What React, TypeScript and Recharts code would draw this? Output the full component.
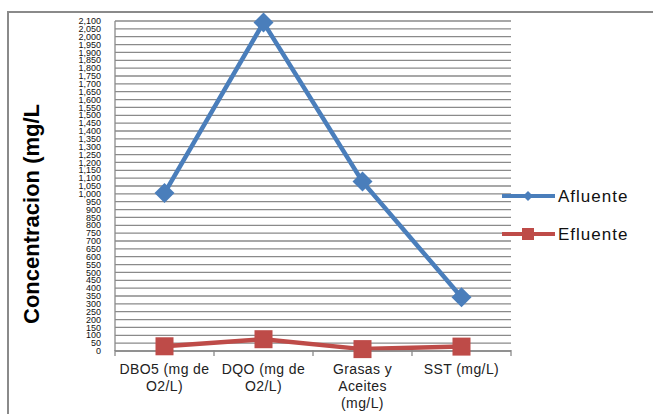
import { LineChart, Line, XAxis, YAxis, CartesianGrid } from 'recharts'

const categories = ['DBO5 (mg de O2/L)', 'DQO (mg de O2/L)', 'Grasas y Aceites (mg/L)', 'SST (mg/L)']
const tickLines = [['DBO5 (mg de', 'O2/L)'], ['DQO (mg de', 'O2/L)'], ['Grasas y', 'Aceites', '(mg/L)'], ['SST (mg/L)']]
const afluente = [1005, 2090, 1078, 342]
const efluente = [30, 75, 12, 28]
const yTicks = Array.from({ length: 43 }, (_, i) => i * 50)

const data = categories.map((c, i) => ({ name: c, afluente: afluente[i], efluente: efluente[i] }))

const BLUE = '#4a7ebb'
const RED = '#be4b48'
const GRID = '#8a8a8a'
const FONT = 'Liberation Sans, Arial, sans-serif'

function Diamond(props: any) {
  const { cx, cy, index } = props
  if (cx == null || cy == null) return null
  return <path key={'d' + index} d={`M${cx},${cy - 10}L${cx + 10},${cy}L${cx},${cy + 10}L${cx - 10},${cy}Z`} fill={BLUE} />
}

function Square(props: any) {
  const { cx, cy, index } = props
  if (cx == null || cy == null) return null
  return <rect key={'s' + index} x={cx - 9} y={cy - 9} width={18} height={18} fill={RED} />
}

function XTick(props: any) {
  const { x, y, payload, index } = props
  const half = payload.offset || 49.5
  const lines = tickLines[index] || [payload.value]
  return (
    <g>
      <line x1={x - half} y1={y - 9} x2={x - half} y2={y - 3} stroke={GRID} strokeWidth={1.3} />
      {index === categories.length - 1 && (
        <line x1={x + half} y1={y - 9} x2={x + half} y2={y - 3} stroke={GRID} strokeWidth={1.3} />
      )}
      {lines.map((l: string, i: number) => (
        <text key={i} x={x} y={y + 15 + i * 17} textAnchor="middle" fontSize={14} letterSpacing={0.4} fill="#222" fontFamily={FONT}>
          {l}
        </text>
      ))}
    </g>
  )
}

function ChartLegend() {
  const items = [
    { label: 'Afluente', color: BLUE, shape: 'diamond' },
    { label: 'Efluente', color: RED, shape: 'square' },
  ]
  return (
    <svg width={153} height={60} style={{ position: 'absolute', left: 500, top: 186 }}>
      {items.map((it, i) => {
        const cy = 10 + i * 38
        return (
          <g key={it.label}>
            <line x1={2} y1={cy} x2={55} y2={cy} stroke={it.color} strokeWidth={4} />
            {it.shape === 'diamond' ? (
              <path d={`M28,${cy - 5}L33,${cy}L28,${cy + 5}L23,${cy}Z`} fill={it.color} />
            ) : (
              <rect x={22} y={cy - 6} width={12} height={12} fill={it.color} />
            )}
            <text x={58} y={cy + 6} fontSize={17} letterSpacing={1} fill="#111" fontFamily={FONT}>
              {it.label}
            </text>
          </g>
        )
      })}
    </svg>
  )
}

export default function App() {
  return (
    <div style={{ position: 'absolute', left: 0, top: 0, width: 653, height: 414, background: '#fff' }}>
      <div style={{ position: 'absolute', left: 7, top: 11, width: 646, height: 403, borderTop: '2px solid #8a8a8a', borderLeft: '2px solid #8a8a8a' }} />
      <LineChart width={653} height={414} data={data} margin={{ top: 21, right: 142, bottom: 0, left: 0 }} style={{ position: 'absolute', left: 0, top: 0 }}>
        <CartesianGrid vertical={false} stroke={GRID} strokeWidth={1.3} />
        <XAxis
          dataKey="name"
          axisLine={{ stroke: GRID, strokeWidth: 1.3 }}
          tickLine={false}
          tick={<XTick />}
          interval={0}
          height={63}
          padding={{ left: 49.5, right: 49.5 }}
        />
        <YAxis
          width={115}
          domain={[0, 2100]}
          ticks={yTicks}
          interval={0}
          tickLine={false}
          tickSize={0}
          tickMargin={14}
          axisLine={{ stroke: GRID, strokeWidth: 1.3 }}
          tick={{ fontSize: 9, fill: '#111', fontFamily: FONT }}
          tickFormatter={(v: number) => v.toLocaleString('en-US')}
          label={{
            content: () => {
              const cx = 31
              const cy = 214
              return (
                <text x={cx} y={cy} transform={`rotate(-90 ${cx} ${cy})`} textAnchor="middle" dominantBaseline="central" fontSize={22} fontWeight="bold" fill="#000" fontFamily={FONT}>
                  Concentracion  (mg/L
                </text>
              )
            },
          }}
        />
        <Line dataKey="afluente" name="Afluente" stroke={BLUE} strokeWidth={4.5} dot={<Diamond />} activeDot={false} isAnimationActive={false} />
        <Line dataKey="efluente" name="Efluente" stroke={RED} strokeWidth={4.5} dot={<Square />} activeDot={false} isAnimationActive={false} />
      </LineChart>
      <ChartLegend />
    </div>
  )
}
